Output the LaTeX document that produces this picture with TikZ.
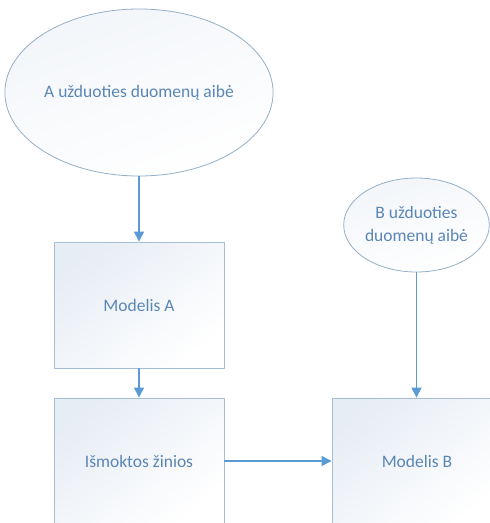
\documentclass[tikz,border=0pt]{standalone}
\usepackage{fontspec}
\setmainfont{Carlito}
\usetikzlibrary{shapes.geometric,arrows.meta}
\definecolor{edgeblue}{HTML}{95AFC8}
\definecolor{boxedge}{HTML}{A7BFD6}
\definecolor{arrowblue}{HTML}{5B9BD5}
\definecolor{txtblue}{HTML}{5A86B6}
\definecolor{shadeblue}{HTML}{E3EAF3}
\tikzset{
  dataset/.style={ellipse, draw=edgeblue, line width=0.8pt, inner sep=0pt,
    top color=shadeblue!45, bottom color=white, shading angle=20,
    text=txtblue, font=\fontsize{17.5}{23}\selectfont, align=center},
  procbox/.style={rectangle, draw=boxedge, line width=0.9pt, inner sep=0pt,
    minimum width=170pt, minimum height=126pt,
    top color=shadeblue!85, bottom color=white, shading angle=40,
    text=txtblue, font=\fontsize{17.5}{23}\selectfont},
  flow/.style={draw=arrowblue, line width=1.4pt,
    -{Triangle[length=10pt,width=10pt]}}
}
\begin{document}
\begin{tikzpicture}[x=1pt,y=-1pt]
  \useasboundingbox (0,0) rectangle (490,523);
  \fill[white] (0,0) rectangle (490,523);
  \clip (0,0) rectangle (490,523);

  % data sets
  \node[dataset, minimum width=254pt, minimum height=167pt] (dsA) at (139,92.5)
    {A užduoties duomenų aibė};
  \node[dataset, minimum width=143pt, minimum height=94pt] (dsB) at (416.5,225)
    {B užduoties\\duomenų aibė};

  % processing blocks
  \node[procbox] (modA) at (139,305) {Modelis A};
  \node[procbox] (know) at (139,461) {Išmoktos žinios};
  \node[procbox] (modB) at (417,461) {Modelis B};

  % connectors
  \draw[flow] (dsA.south) -- (modA.north);
  \draw[flow] (modA.south) -- (know.north);
  \draw[flow] (dsB.south) -- (dsB.south |- modB.north);
  \draw[flow] (know.east) -- (modB.west);
\end{tikzpicture}
\end{document}
